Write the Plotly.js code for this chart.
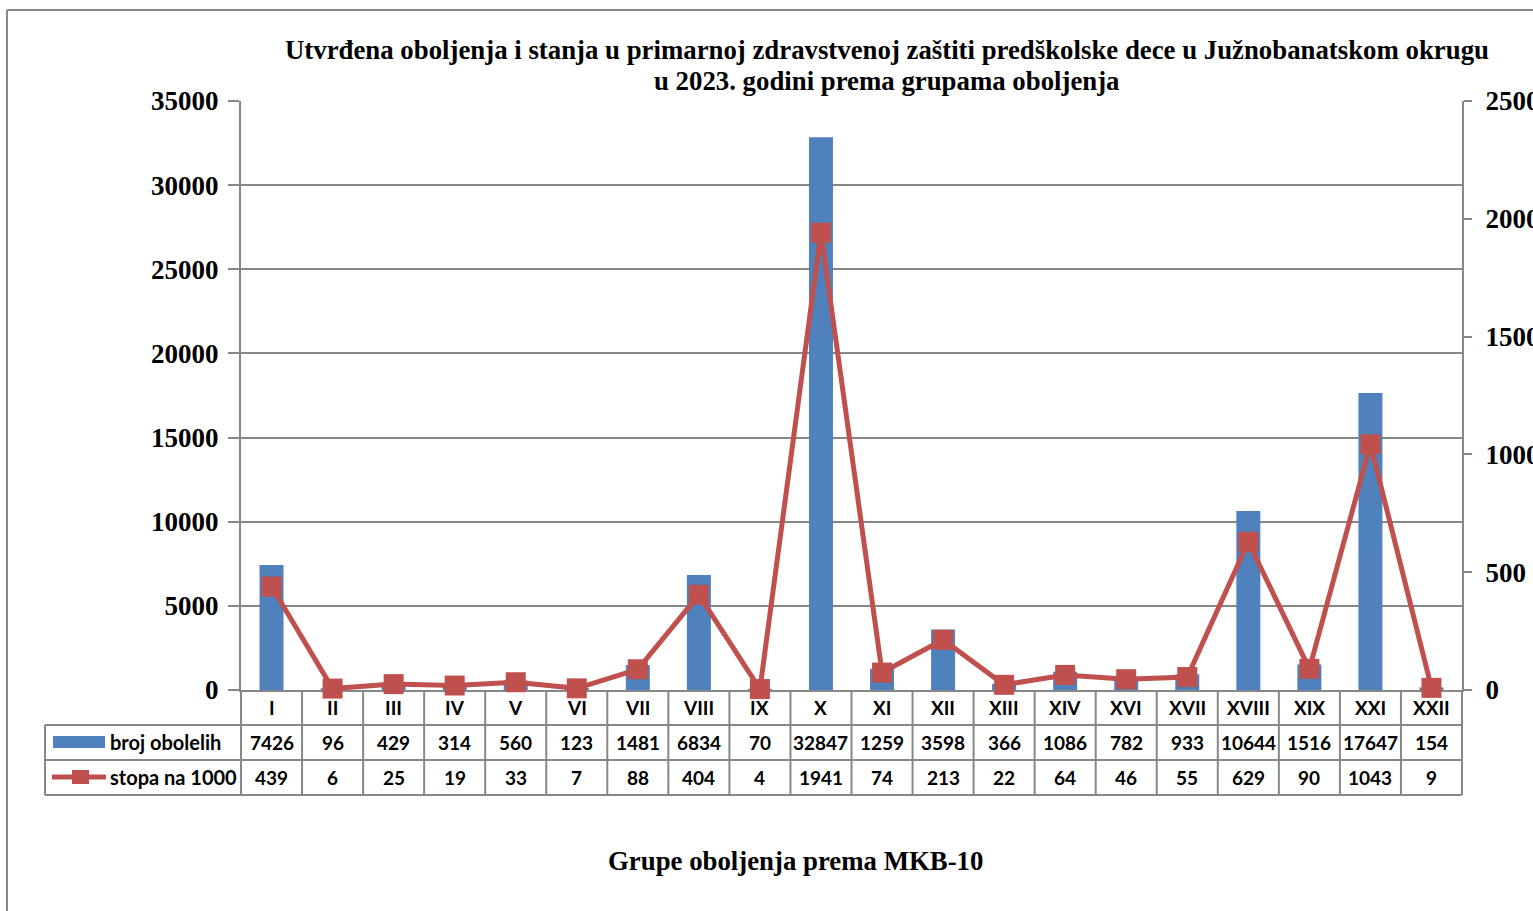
<!DOCTYPE html>
<html><head><meta charset="utf-8">
<script src="https://cdn.plot.ly/plotly-3.0.1.min.js"></script>
<style>html,body{margin:0;padding:0;background:#fff;overflow:hidden;} #chart{width:1533px;height:911px;}</style>
</head><body><div id="chart"></div>
<script>
const categories = ['I','II','III','IV','V','VI','VII','VIII','IX','X','XI','XII','XIII','XIV','XVI','XVII','XVIII','XIX','XXI','XXII'];
const brojObolelih = [7426,96,429,314,560,123,1481,6834,70,32847,1259,3598,366,1086,782,933,10644,1516,17647,154];
const stopaNa1000 = [439,6,25,19,33,7,88,404,4,1941,74,213,22,64,46,55,629,90,1043,9];
const seriesNames = ['broj obolelih', 'stopa na 1000'];
const leftTicks = [0,5000,10000,15000,20000,25000,30000,35000];
const rightTicks = [0,500,1000,1500,2000,2500];
const titleLines = ['Utvrđena oboljenja i stanja u primarnoj zdravstvenoj zaštiti predškolske dece u Južnobanatskom okrugu', 'u 2023. godini prema grupama oboljenja'];
const xTitle = 'Grupe oboljenja prema MKB-10';

const W = 1533, H = 911, L = 241, R = 1462, T = 101, B = 690;
const px = v => (v - L) / (R - L);
const py = v => (B - v) / (B - T);
const GRAY = '#878787';
const BLUE = '#4F81BD', RED = '#C0504D';
const serif = 'Liberation Serif, Times New Roman, serif';
const sans = 'Lato, Carlito, Calibri, sans-serif';

const rowY = [707, 742, 777];
const lineRows = [725, 760, 795];

const shapes = [];
// outer frame
shapes.push({type:'line', xref:'paper', yref:'paper', x0:px(7), x1:px(7), y0:py(10), y1:py(H+20), line:{color:GRAY, width:2}});
shapes.push({type:'line', xref:'paper', yref:'paper', x0:px(7), x1:px(W+20), y0:py(10), y1:py(10), line:{color:GRAY, width:2}});
// table horizontal lines
lineRows.forEach(y => shapes.push({type:'line', xref:'paper', yref:'paper', x0:px(45), x1:1, y0:py(y), y1:py(y), line:{color:GRAY, width:2}}));
// table vertical lines
shapes.push({type:'line', xref:'paper', yref:'paper', x0:px(45), x1:px(45), y0:py(725), y1:py(795), line:{color:GRAY, width:2}});
shapes.push({type:'line', xref:'paper', yref:'paper', x0:0, x1:0, y0:py(690), y1:py(795), line:{color:GRAY, width:2}});
shapes.push({type:'line', xref:'paper', yref:'paper', x0:1, x1:1, y0:py(690), y1:py(795), line:{color:GRAY, width:2}});
for (let i = 0; i < categories.length - 1; i++) {
  shapes.push({type:'line', xref:'x', yref:'paper', x0:i+0.5, x1:i+0.5, y0:py(690), y1:py(795), line:{color:GRAY, width:2}});
}
// legend keys
shapes.push({type:'rect', xref:'paper', yref:'paper', x0:px(53), x1:px(105), y0:py(736), y1:py(748), fillcolor:BLUE, line:{width:0}});
shapes.push({type:'line', xref:'paper', yref:'paper', x0:px(52), x1:px(106), y0:py(777), y1:py(777), line:{color:RED, width:5}});
shapes.push({type:'rect', xref:'paper', yref:'paper', x0:px(72), x1:px(89), y0:py(770), y1:py(784), fillcolor:RED, line:{width:0}});

const annotations = [];
const sfont = {family:serif, size:26.8, color:'#000', weight:'bold'};
annotations.push({text:titleLines[0], xref:'paper', yref:'paper', x:px(887), y:py(50), xanchor:'center', yanchor:'middle', showarrow:false, font:sfont});
annotations.push({text:titleLines[1], xref:'paper', yref:'paper', x:px(887), y:py(81), xanchor:'center', yanchor:'middle', showarrow:false, font:sfont});
annotations.push({text:xTitle, xref:'paper', yref:'paper', x:px(795), y:py(861), xanchor:'center', yanchor:'middle', showarrow:false, font:sfont});
const tfont = {family:sans, size:19, color:'#000', weight:'bold'};
const lfont = {family:sans, size:20, color:'#000', weight:'bold'};
categories.forEach((c, i) => {
  annotations.push({text:c, xref:'x', yref:'paper', x:i, y:py(rowY[0]), xanchor:'center', yanchor:'middle', showarrow:false, font:tfont});
  annotations.push({text:String(brojObolelih[i]), xref:'x', yref:'paper', x:i, y:py(rowY[1]), xanchor:'center', yanchor:'middle', showarrow:false, font:tfont});
  annotations.push({text:String(stopaNa1000[i]), xref:'x', yref:'paper', x:i, y:py(rowY[2]), xanchor:'center', yanchor:'middle', showarrow:false, font:tfont});
});
annotations.push({text:seriesNames[0], xref:'paper', yref:'paper', x:px(108), y:py(rowY[1]), xanchor:'left', yanchor:'middle', showarrow:false, font:lfont});
annotations.push({text:seriesNames[1], xref:'paper', yref:'paper', x:px(108), y:py(rowY[2]), xanchor:'left', yanchor:'middle', showarrow:false, font:lfont});

const traces = [
  {type:'bar', name:seriesNames[0], x:categories, y:brojObolelih, marker:{color:BLUE}, yaxis:'y'},
  {type:'scatter', mode:'lines+markers', name:seriesNames[1], x:categories, y:stopaNa1000, yaxis:'y2',
   line:{color:RED, width:5}, marker:{symbol:'square', size:20, color:RED}, cliponaxis:false}
];

const tickFont = {family:serif, size:27, color:'#000', weight:'bold'};
const layout = {
  width:W, height:H,
  margin:{l:L, r:W-R, t:T, b:H-B, pad:0},
  paper_bgcolor:'#fff', plot_bgcolor:'rgba(0,0,0,0)',
  showlegend:false, bargap:0.607,
  xaxis:{type:'category', range:[-0.5, categories.length-0.5], showticklabels:false, ticks:'',
         showline:true, linecolor:GRAY, linewidth:2, showgrid:false, zeroline:false, layer:'below traces', fixedrange:true},
  yaxis:{range:[0,35000], tickvals:leftTicks, ticktext:leftTicks.map(String), ticks:'outside', ticklen:11, tickwidth:2, tickcolor:GRAY,
         showline:true, linecolor:GRAY, linewidth:2, showgrid:true, gridcolor:GRAY, gridwidth:2, zeroline:false,
         tickfont:tickFont, ticklabelstandoff:4, layer:'below traces'},
  yaxis2:{range:[0,2500], tickvals:rightTicks, ticktext:rightTicks.map(String), overlaying:'y', side:'right', ticks:'outside', ticklen:8, tickwidth:2, tickcolor:GRAY,
         showline:true, linecolor:GRAY, linewidth:2, showgrid:false, zeroline:false, tickfont:tickFont, ticklabelstandoff:8, layer:'below traces'},
  shapes:shapes, annotations:annotations
};
Plotly.newPlot('chart', traces, layout, {displayModeBar:false, staticPlot:true});
</script></body></html>
